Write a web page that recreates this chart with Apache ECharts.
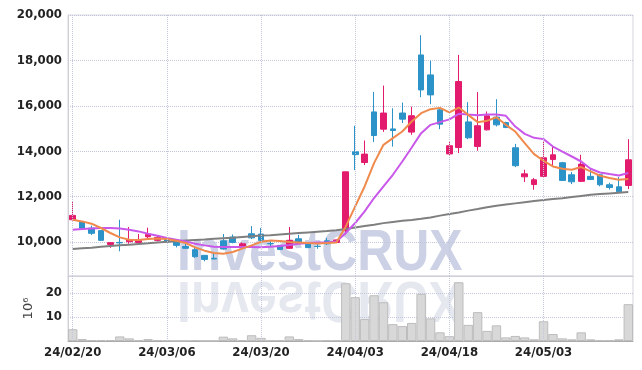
<!DOCTYPE html>
<html><head><meta charset="utf-8">
<script src="https://cdn.jsdelivr.net/npm/echarts@6/dist/echarts.min.js"></script>
<style>html,body{margin:0;padding:0;background:#fff}#c{width:642px;height:370px}</style>
</head><body><div id="c"></div>
<script>
var dates = ['24/02/20','24/02/21','24/02/22','24/02/23','24/02/26','24/02/27','24/02/28','24/02/29','24/03/04','24/03/05',
 '24/03/06','24/03/07','24/03/08','24/03/11','24/03/12','24/03/13','24/03/14','24/03/15','24/03/18','24/03/19',
 '24/03/20','24/03/21','24/03/22','24/03/25','24/03/26','24/03/27','24/03/28','24/03/29','24/04/01','24/04/02',
 '24/04/03','24/04/04','24/04/05','24/04/08','24/04/09','24/04/11','24/04/12','24/04/15','24/04/16','24/04/17',
 '24/04/18','24/04/19','24/04/22','24/04/23','24/04/24','24/04/25','24/04/26','24/04/29','24/04/30','24/05/02',
 '24/05/03','24/05/07','24/05/08','24/05/09','24/05/10','24/05/13','24/05/14','24/05/16','24/05/17','24/05/20'];
var opens  = [10980,10880,10610,10500,9890,9980,10010,9980,10230,10070,10130,10040,9800,9660,9410,9280,10050,10220,9770,10360,
 10350,9930,9850,9720,10140,9950,9810,10050,9980,10510,13970,13500,15730,14970,14980,15680,14840,18240,17360,15820,
 13880,14160,15290,14210,14940,15500,15260,14150,12870,12530,12890,13630,13490,12960,12670,12890,12960,12520,12430,12490];
var closes = [11170,10600,10380,10070,9970,9960,10110,10070,10330,10200,10000,9850,9720,9350,9230,9250,9690,9980,9920,10180,
 10070,9920,9670,10070,9980,9750,9800,9920,10090,13090,13850,13870,14690,15680,14910,15410,15560,16700,16480,15190,
 14240,17070,14590,15120,15560,15160,15040,13360,13000,12740,13710,13840,12710,12650,13430,12750,12520,12400,12210,13620];
var lows   = [10950,10580,10310,10060,9740,9590,9920,9940,10170,10020,9990,9760,9690,9300,9150,9240,9660,9940,9700,10130,
 10020,9800,9660,9690,9950,9740,9700,9870,9970,10320,13170,13390,14400,14850,14200,15240,14720,16380,16070,14970,
 13810,13920,14530,14020,14910,15090,15020,13300,12640,12300,12860,13330,12700,12550,12640,12730,12450,12310,12200,12330];
var highs  = [11800,10900,10720,10500,9980,10980,10660,10350,10630,10290,10140,10050,9910,9740,9420,9530,10350,10330,9980,10700,
 10620,10040,9860,10660,10320,9960,9950,10180,10100,13090,15120,14470,16610,16890,15890,16140,15960,19110,17990,15880,
 14410,18240,16160,16600,15750,16290,15300,14320,13180,12820,14430,14200,13530,13080,13840,13220,12990,12610,12860,14530];
var maShort = [10980,10906,10804,10615,10395,10201,10100,10087,10131,10157,10131,10056,9953,9761,9616,9515,9484,9559,9704,9849,
 10005,10069,10043,9999,9981,9953,9937,9953,9981,10685,11565,12445,13475,14280,14575,14865,15305,15675,15850,15908,
 15710,15922,15600,15279,15336,15497,15160,14865,14355,13871,13576,13327,13224,13180,13299,13106,12916,12815,12740,12771];
var maMid = [10540,10571,10597,10615,10615,10597,10540,10465,10364,10276,10175,10100,10025,9924,9849,9792,9779,9779,9779,9779,
 9770,9792,9823,9867,9924,9953,9981,9981,10025,10395,10835,11345,11935,12445,12960,13545,14161,14795,15160,15279,
 15400,15644,15613,15587,15613,15613,15556,15085,14764,14588,14531,14205,13985,13765,13545,13224,13061,12991,12929,13035];
var maLong = [9690,9720,9750,9790,9820,9850,9880,9910,9940,9975,10010,10035,10060,10085,10110,10140,10165,10190,10220,10250,
 10280,10300,10330,10360,10390,10420,10450,10480,10520,10570,10640,10700,10760,10830,10880,10930,10970,11020,11080,11160,
 11230,11300,11380,11450,11530,11600,11650,11700,11750,11800,11850,11890,11930,11980,12030,12080,12110,12140,12170,12200];
var volumes = [4.9,0.8,0.4,0.4,0.4,1.9,1.1,0.3,0.8,0.4,0.15,0.1,0.1,0.3,0.1,0.1,1.8,1.1,0.4,2.4,
 1.3,0.3,0.3,1.9,0.8,0.2,0.1,0.3,0.3,24,18.2,9.1,19,16.1,7.0,6.2,7.5,19.6,9.4,3.6,
 2.0,24.4,6.7,12.0,4.2,6.5,1.5,2.1,1.5,0.7,8.2,2.9,1.1,0.7,3.6,0.7,0.3,0.3,0.7,15.3];
var priceTicks = [10000,12000,14000,16000,18000,20000];
var volumeUnit = '10\u2076';
var watermark = 'InvestCRUX';

var FONT = '"DejaVu Sans Condensed","Liberation Sans Narrow",sans-serif';
var candles = dates.map(function(d,i){return [opens[i],closes[i],lows[i],highs[i]];});
var vLines = [0,10,20,30,40,50].map(function(i){return {xAxis: dates[i]};});
var markV = {silent:true, symbol:'none', animation:false, label:{show:false},
  lineStyle:{type:'dotted', color:'#c3c7dc', width:1}, data:vLines};
var chart = echarts.init(document.getElementById('c'), null, {renderer:'canvas'});
chart.setOption({
  animation:false,
  backgroundColor:'#fff',
  graphic:[
    {type:'text', x:177, y:254, scaleX:0.86, z:-10, silent:true,
     style:{text:watermark, fontSize:58, fontWeight:'bold', fontFamily:'"Liberation Sans",Arial,sans-serif',
            fill:'#ccd1e6', verticalAlign:'middle'}},
    {type:'text', x:177, y:298, scaleX:0.86, scaleY:-1, z:-10, silent:true,
     style:{text:watermark, fontSize:58, fontWeight:'bold', fontFamily:'"Liberation Sans",Arial,sans-serif',
            fill:'#e6e8f0', verticalAlign:'middle'}}
  ],
  grid:[
    {left:68, top:15, width:565, height:261, show:true, borderColor:'#d6d6de', borderWidth:1, backgroundColor:'transparent'},
    {left:68, top:276, width:565, height:65, show:true, borderColor:'#d6d6de', borderWidth:1, backgroundColor:'transparent'}
  ],
  xAxis:[
    {type:'category', gridIndex:0, data:dates, boundaryGap:true,
     axisLabel:{show:false}, axisTick:{show:false}, axisLine:{show:true, lineStyle:{color:'#cfcfd6'}}, splitLine:{show:false}},
    {type:'category', gridIndex:1, data:dates, boundaryGap:true,
     axisLabel:{interval:9, color:'#222', fontSize:13, fontWeight:'bold', fontFamily:FONT, margin:5},
     axisTick:{show:false}, axisLine:{show:true, lineStyle:{color:'#aaaaaa'}}, splitLine:{show:false}}
  ],
  yAxis:[
    {type:'value', gridIndex:0, min:8500, max:20000, scale:true,
     axisLine:{show:true, lineStyle:{color:'#cfcfd6'}},
     axisTick:{show:false, customValues:priceTicks},
     axisLabel:{customValues:priceTicks, color:'#222', fontSize:13, fontWeight:'bold', fontFamily:FONT, margin:6,
       formatter:function(v){return v.toLocaleString('en-US');}},
     splitLine:{show:true, lineStyle:{type:'dotted', color:'#c3c7dc'}}},
    {type:'value', gridIndex:1, min:0, max:27, interval:10,
     name:volumeUnit, nameLocation:'middle', nameRotate:90, nameGap:28,
     nameTextStyle:{color:'#444', fontSize:13, fontFamily:'"DejaVu Sans",sans-serif'},
     axisLine:{show:true, lineStyle:{color:'#cfcfd6'}}, axisTick:{show:false},
     axisLabel:{showMinLabel:false, showMaxLabel:false, color:'#222', fontSize:13, fontWeight:'bold', fontFamily:FONT, margin:6},
     splitLine:{show:true, lineStyle:{type:'dotted', color:'#c3c7dc'}}}
  ],
  series:[
    {type:'candlestick', xAxisIndex:0, yAxisIndex:0, data:candles, barWidth:'65%',
     itemStyle:{color:'#e31b6d', color0:'#2c93c8', borderColor:'#e31b6d', borderColor0:'#2c93c8', borderWidth:1},
     markLine:markV},
    {type:'line', xAxisIndex:0, yAxisIndex:0, data:maLong, symbol:'none', lineStyle:{color:'#7f7f7f', width:2}},
    {type:'line', xAxisIndex:0, yAxisIndex:0, data:maMid, symbol:'none', lineStyle:{color:'#c958ea', width:2}},
    {type:'line', xAxisIndex:0, yAxisIndex:0, data:maShort, symbol:'none', lineStyle:{color:'#f08a4c', width:2}},
    {type:'bar', xAxisIndex:1, yAxisIndex:1, data:volumes, barCategoryGap:'0%',
     itemStyle:{color:'#d8d8d8', borderColor:'#bdbdbd', borderWidth:1}, markLine:markV}
  ]
});
</script></body></html>
